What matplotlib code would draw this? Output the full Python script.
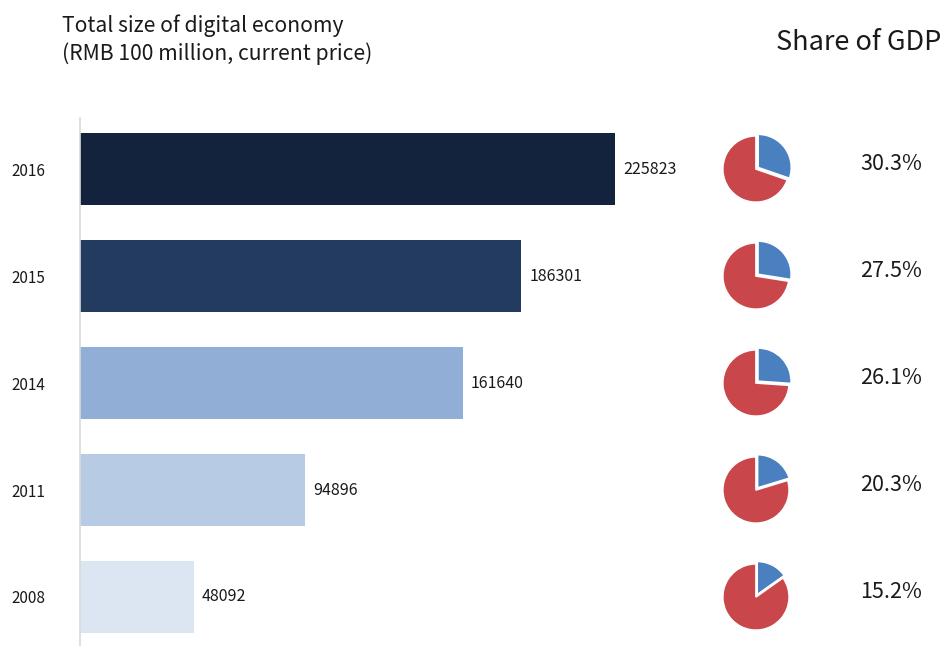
import matplotlib

matplotlib.use("Agg")
import matplotlib.pyplot as plt

plt.rcParams["font.family"] = ["Noto Sans CJK SC", "DejaVu Sans"]

# data
years = ["2008", "2011", "2014", "2015", "2016"]
sizes = [48092, 94896, 161640, 186301, 225823]
gdp_share = [15.2, 20.3, 26.1, 27.5, 30.3]
bar_colors = ["#dce5f2", "#b8cbe5", "#91aed6", "#233b5e", "#13233d"]
pie_colors = ["#4a7fc0", "#c9474b"]

W, H = 943, 646
fig = plt.figure(figsize=(W / 100, H / 100), dpi=100)
fig.patch.set_facecolor("white")

# bar axes: pixel box x 80..680, y 118..646
ax_l, ax_r, ax_t, ax_b = 80, 680, 118, 646
ax = fig.add_axes([ax_l / W, 1 - ax_b / H, (ax_r - ax_l) / W, (ax_b - ax_t) / H])
px_per_unit = 535 / 225823
ax.set_xlim(0, (ax_r - ax_l) / px_per_unit)
ypos = list(range(len(years)))
ax.set_ylim(-0.458, 4.477)

ax.barh(ypos, sizes, height=0.67, color=bar_colors)
for y, v in zip(ypos, sizes):
    ax.annotate(
        str(v), xy=(v, y), xytext=(8, 0), textcoords="offset pixels",
        ha="left", va="center", fontsize=11.5, color="#1a1a1a",
        bbox=dict(boxstyle="square,pad=0.5", fc="white", ec="none"),
    )

ax.set_yticks(ypos)
ax.set_yticklabels(years, fontsize=11, color="#1a1a1a")
ax.tick_params(axis="y", length=0, pad=25)
ax.set_xticks([])
for s in ["top", "right", "bottom"]:
    ax.spines[s].set_visible(False)
ax.spines["left"].set_color("#d9d9d9")
ax.spines["left"].set_linewidth(1.2)

# pie axes, same vertical scale as the bars
pax = fig.add_axes([ax_r / W, 1 - ax_b / H, (W - ax_r) / W, (ax_b - ax_t) / H])
unit_px = (ax_b - ax_t) / (4.477 + 0.458)
for y, share in zip(ypos, gdp_share):
    pax.pie(
        [share, 100 - share], colors=pie_colors, startangle=90, counterclock=False,
        center=(0.71, y), radius=0.31, explode=[0.025, 0], frame=True,
        wedgeprops=dict(edgecolor="white", linewidth=1.2),
    )
    pax.text(1.97, y + 0.05, f"{share}%", ha="center", va="center",
             fontsize=15.5, color="#1a1a1a")
pax.set_aspect("auto")
pax.set_xlim(0, (W - ax_r) / unit_px)
pax.set_ylim(-0.458, 4.477)
pax.axis("off")

fig.text(62 / W, 1 - 26 / H, "Total size of digital economy", fontsize=15.2,
         color="#1a1a1a", va="center", ha="left")
fig.text(62 / W, 1 - 54 / H, "(RMB 100 million, current price)", fontsize=15.2,
         color="#1a1a1a", va="center", ha="left")
fig.text(941 / W, 1 - 43 / H, "Share of GDP", fontsize=19.5,
         color="#1a1a1a", va="center", ha="right")

fig.savefig("out.png", dpi=100, facecolor="white")
